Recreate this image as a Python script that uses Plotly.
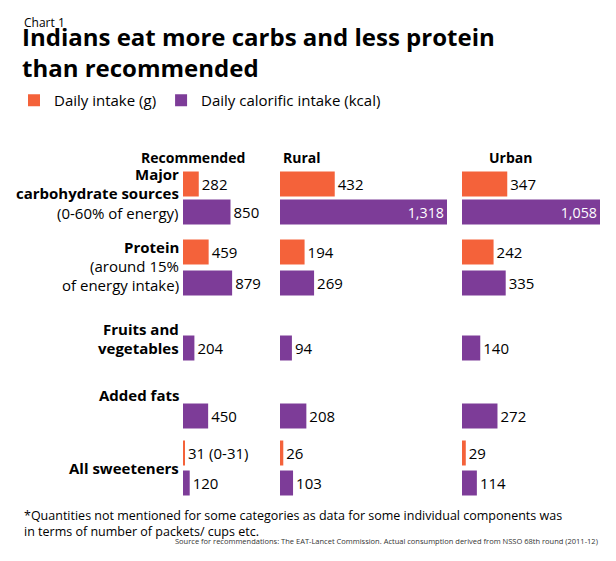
import plotly.graph_objects as go

categories = ["Major carbohydrate sources", "Protein", "Fruits and vegetables", "Added fats", "All sweeteners"]
rec_g = [282, 459, None, None, 31]
rec_kcal = [850, 879, 204, 450, 120]
rural_g = [432, 194, None, None, 26]
rural_kcal = [1318, 269, 94, 208, 103]
urban_g = [347, 242, None, None, 29]
urban_kcal = [1058, 335, 140, 272, 114]
rec_g_labels = ["282", "459", "", "", "31 (0-31)"]

# layout: vertical pixel rows
g_rows = [184, 252, None, None, 453]
k_rows = [212, 283, 348, 416, 483]
cat_label_y = [[174, 193, 213], [247, 266, 285], [329, 348], [395], [468]]
cat_label_lines = [["<b>Major</b>", "<b>carbohydrate sources</b>", "(0-60% of energy)"],
                   ["<b>Protein</b>", "(around 15%", "of energy intake)"],
                   ["<b>Fruits and</b>", "<b>vegetables</b>"],
                   ["<b>Added fats</b>"], ["<b>All sweeteners</b>"]]

ORANGE = "#f4623a"
PURPLE = "#7d3c98"
FONT = "Open Sans"
W, H = 600, 545  # page has 8px body margin


def px(x):
    return (x - 8) / W


def py(y):
    return 1 - (y - 8) / H


fig = go.Figure()


def fmt(v):
    return f"{v:,}"


panels = [("x", rec_g, rec_kcal, 1, rec_g_labels), ("x2", rural_g, rural_kcal, 1318, None), ("x3", urban_g, urban_kcal, 1058, None)]
for i, (xa, g, k, inside_thr, glab) in enumerate(panels):
    gy = [y for y, v in zip(g_rows, g) if v is not None]
    gv = [v for v in g if v is not None]
    gt = [l for l, v in zip(glab, g) if v is not None] if glab else [fmt(v) for v in gv]
    fig.add_trace(go.Bar(x=gv, y=gy, orientation="h", marker_color=ORANGE, width=25, xaxis=xa, yaxis="y",
                         text=gt, textposition="outside", cliponaxis=False, showlegend=(i == 0),
                         name="Daily intake (g)", textfont=dict(color="black", size=15, family=FONT)))
    pos = ["inside" if v >= inside_thr and i > 0 else "outside" for v in k]
    fig.add_trace(go.Bar(x=k, y=k_rows, orientation="h", marker_color=PURPLE, width=25, xaxis=xa, yaxis="y",
                         text=[fmt(v) for v in k], textposition=pos, insidetextanchor="end", cliponaxis=False,
                         showlegend=(i == 0), name="Daily calorific intake (kcal)",
                         textfont=dict(color=["white" if p == "inside" else "black" for p in pos], size=15, family=FONT)))

fig.update_traces(textfont_size=15, marker_line_width=0)
ann = []
for lines, ys in zip(cat_label_lines, cat_label_y):
    for t, y in zip(lines, ys):
        ann.append(dict(text=t, x=px(181), y=py(y), xref="paper", yref="paper", xanchor="right", yanchor="middle",
                        showarrow=False, font=dict(size=15, family=FONT, color="black")))
for t, x, xa in [("Recommended", 247, "right"), ("Rural", 281, "left"), ("Urban", 487, "left")]:
    ann.append(dict(text=f"<b>{t}</b>", x=px(x), y=py(146), xref="paper", yref="paper", xanchor=xa,
                    showarrow=False, font=dict(size=14, family=FONT, color="black")))
ann += [
    dict(text="Chart 1", x=px(22), y=py(12), xref="paper", yref="paper", xanchor="left", showarrow=False,
         font=dict(size=12, family=FONT, color="black")),
    dict(text="<b>Indians eat more carbs and less protein<br>than recommended</b>", x=px(20), y=py(18),
         xref="paper", yref="paper", xanchor="left", yanchor="top", align="left", showarrow=False,
         font=dict(size=24, family=FONT, color="black")),
    dict(text="*Quantities not mentioned for some categories as data for some individual components was<br>in terms of number of packets/ cups etc.",
         x=px(22), y=py(505), xref="paper", yref="paper", xanchor="left", yanchor="top", align="left",
         showarrow=False, font=dict(size=12.5, family=FONT, color="black")),
    dict(text="Source for recommendations: The EAT-Lancet Commission. Actual consumption derived from NSSO 68th round (2011-12)",
         x=px(600), y=py(548), xref="paper", yref="paper", xanchor="right", showarrow=False,
         font=dict(size=7.5, family=FONT, color="#333")),
]
ax = dict(showgrid=False, zeroline=False, showticklabels=False, fixedrange=True)
fig.update_layout(
    width=W, height=H, margin=dict(l=0, r=0, t=0, b=0), plot_bgcolor="white", paper_bgcolor="white",
    annotations=ann, barmode="overlay", font=dict(family=FONT),
    legend=dict(orientation="h", x=px(14), y=py(84), xanchor="left", yanchor="top",
                font=dict(size=15, family=FONT, color="black"), itemwidth=30, traceorder="normal"),
    xaxis=dict(domain=[px(183), px(278)], range=[0, 1700], **ax),
    xaxis2=dict(domain=[px(280), px(447)], range=[0, 1318], **ax),
    xaxis3=dict(domain=[px(462), px(600)], range=[0, 1058], **ax),
    yaxis=dict(domain=[py(497), py(170)], range=[497, 170], **ax),
)
fig.write_html("out.html")
